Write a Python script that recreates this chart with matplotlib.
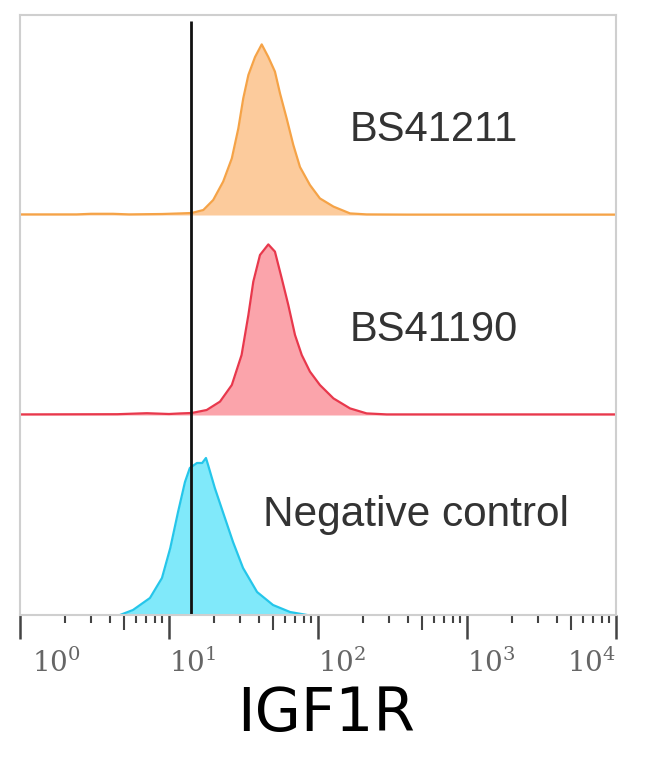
import numpy as np
import matplotlib
matplotlib.use("Agg")
from matplotlib import pyplot as plt
from matplotlib import transforms

# fluorescence intensity (x) and event count, as % of the panel height (y)
orange_x = [1, 2.4, 3.0, 4.2, 5.4, 9, 12, 14.2, 17.0, 19.8, 23.1, 26.4, 29.2, 31.5, 34.1,
            37.8, 41.9, 46.4, 51.4, 55.6, 61.6, 68.3, 75.7, 88.3, 103, 127, 164, 212,
            400, 10000]
orange_y = [0.3, 0.3, 0.6, 0.6, 0.3, 0.5, 0.8, 1, 2.5, 7.5, 16.7, 28.3, 43.3, 58.3, 70,
            79, 85.3, 79, 71.7, 60.8, 48.3, 35, 24, 15, 8.3, 4.2, 0.8, 0.3,
            0.2, 0.2]

red_x = [1, 4.5, 7.1, 10, 12, 14.2, 17.9, 22.0, 26.4, 30.7, 34.1, 36.8, 40.8, 46.4,
         51.4, 57.1, 63.2, 70.1, 77.8, 88.3, 103, 127, 164, 212, 289, 500, 10000]
red_y = [0.3, 0.4, 0.9, 0.5, 0.8, 1, 2.5, 6.7, 15, 30, 50, 66.7, 80, 85.3,
         81.7, 68.3, 55, 40, 30, 21.7, 15, 8.3, 3.3, 0.8, 0.3, 0.3, 0.3]

cyan_x = [4.69, 5.73, 7.45, 8.97, 10.2, 11.5, 12.8, 13.8, 15.4, 16.7, 17.7, 18.3, 20.3,
          23.0, 26.9, 31.4, 39.0, 49.9, 64.9, 84.4]
cyan_y = [0, 2.5, 8.5, 18.5, 33.5, 51.5, 66.5, 73.5, 76, 76, 78.5, 75, 63.5,
          51.5, 36.5, 23.5, 11.5, 5, 1.5, 0]

names = ["BS41211", "BS41190", "Negative control"]
gate = 14.1
tick_vals = [1, 10, 100, 1000, 10000]
tick_text = ["$10^0$", "$10^1$", "$10^2$", "$10^3$", "$10^4$"]

plt.rcParams['mathtext.fontset'] = 'dejavuserif'

fig = plt.figure(figsize=(6.54, 7.68), dpi=100)
ax = fig.add_axes([20/654, 153/768, 596/654, 600/768])

# stacked panels, top to bottom
panels = [
    (orange_x, orange_y, '#f5a347', '#fccb9c', 200),
    (red_x, red_y, '#e8384c', '#fba4ab', 100),
    (cyan_x, cyan_y, '#25c6ea', '#80e9fa', 0),
]
for (xs, ys, edge, face, off) in panels:
    ys = np.array(ys) + off
    ax.fill_between(xs, off, ys, color=face, lw=0)
    ax.plot(xs, ys, color=edge, lw=1.6)

ax.vlines(gate, 0, 297, color='#111111', lw=2)

ax.text(164, 242.5, names[0], fontsize=30, family='Liberation Sans',
        color='#333333', va='center')
ax.text(164, 142.5, names[1], fontsize=30, family='Liberation Sans',
        color='#333333', va='center')
ax.text(42.8, 50, names[2], fontsize=30.5, family='Liberation Sans',
        color='#333333', va='center')

ax.set_xscale('log')
ax.set_xlim(1, 10000)
ax.set_ylim(0, 300)
ax.set_yticks([])
for s in ax.spines.values():
    s.set_color('#cfcfcf')
    s.set_linewidth(1.5)

ax.set_xticks(tick_vals)
ax.set_xticklabels(tick_text, fontsize=20, color='#666666')
minor = [m * 10**d for d in range(4) for m in range(2, 10)]
ax.set_xticks(minor, minor=True)
ax.tick_params(axis='x', which='major', length=17, width=1.8, color='#444444', pad=7)
ax.tick_params(axis='x', which='minor', length=6, width=1.5, color='#444444')
ax.xaxis.set_minor_formatter(plt.NullFormatter())
# the 5s are a bit longer
for t, v in zip(ax.xaxis.get_minor_ticks(), minor):
    if round(v / 10**np.floor(np.log10(v))) == 5:
        t.tick1line.set_markersize(11)

labels = ax.get_xticklabels()
for i, lab in enumerate(labels):
    if i == len(labels) - 1:
        lab.set_horizontalalignment('right')
    else:
        lab.set_horizontalalignment('left')
shift = transforms.ScaledTranslation(12/100, 0, fig.dpi_scale_trans)
labels[0].set_transform(labels[0].get_transform() + shift)

fig.text(326/654, 1 - 715/768, 'IGF1R', fontsize=43, family='DejaVu Sans',
         ha='center', va='center')

fig.savefig('out.png', dpi=100)
